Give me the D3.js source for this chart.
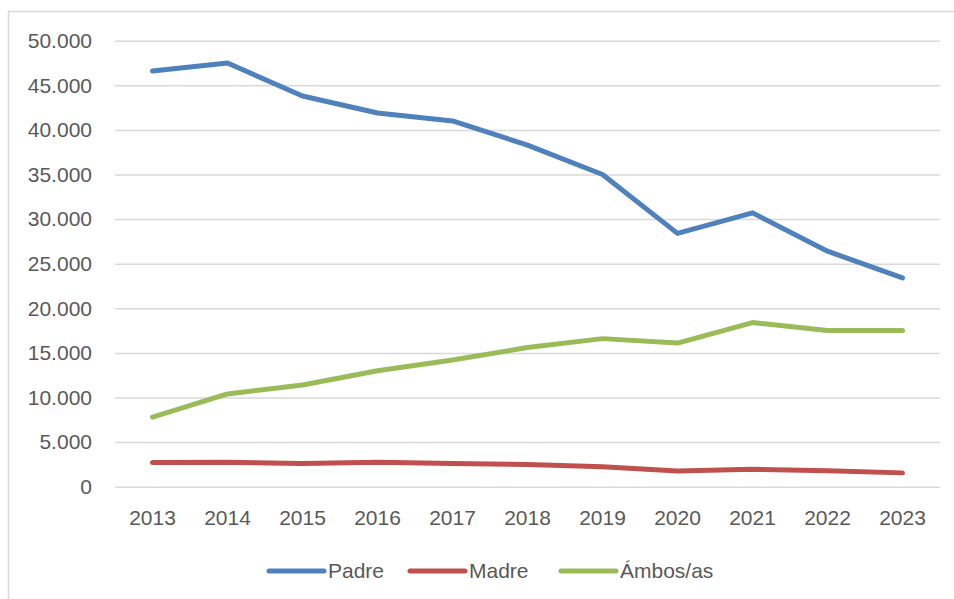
<!DOCTYPE html>
<html>
<head>
<meta charset="utf-8">
<script src="https://cdn.jsdelivr.net/npm/d3@7"></script>
<style>
	body { margin: 0; background: #fff; }
	svg { display: block; font-family: "Liberation Sans", Arial, sans-serif; }
	.tick text { fill: #595959; font-size: 21px; }
	.legend text { fill: #595959; font-size: 21px; }
</style>
</head>
<body>
<svg id="chart" width="954" height="599"></svg>
<script>
"use strict";

// data
var years = ["2013","2014","2015","2016","2017","2018","2019","2020","2021","2022","2023"];
var padre = [46600, 47500, 43800, 41900, 41000, 38300, 35000, 28400, 30700, 26400, 23400];
var madre = [2700, 2750, 2600, 2750, 2600, 2500, 2250, 1750, 1950, 1800, 1550];
var ambos = [7800, 10400, 11400, 13000, 14200, 15600, 16600, 16100, 18400, 17500, 17500];
var yTicks = [0, 5000, 10000, 15000, 20000, 25000, 30000, 35000, 40000, 45000, 50000];
var seriesNames = ["Padre", "Madre", "Ámbos/as"];
var seriesColors = ["#4F81BD", "#C0504D", "#9BBB59"];

var series = [padre, madre, ambos];

var svg = d3.select("#chart");
var plotL = 115, plotR = 940, plotT = 40.7, plotB = 486.7;

var loc = d3.formatLocale({decimal: ",", thousands: ".", grouping: [3], currency: ["", "€"]});
var fmt = loc.format(",d");

// chart border (right and bottom fall outside the picture)
svg.append("rect")
	.attr("x", 8.5).attr("y", 11.5)
	.attr("width", 960).attr("height", 620)
	.attr("fill", "none")
	.attr("stroke", "#D9D9D9")
	.attr("stroke-width", 1.5);

var x = d3.scaleBand().domain(years).range([plotL, plotR]);
var y = d3.scaleLinear().domain([0, 50000]).range([plotB, plotT]);

// gridlines + y labels
var yAxis = svg.append("g")
	.attr("transform", "translate(" + plotL + ",0)")
	.call(d3.axisLeft(y).tickValues(yTicks).tickFormat(fmt).tickSize(-(plotR - plotL)).tickPadding(23));
yAxis.select(".domain").remove();
yAxis.selectAll(".tick line").attr("stroke", "#D9D9D9").attr("stroke-width", 1.5);

// x labels
var xAxis = svg.append("g")
	.attr("transform", "translate(0," + plotB + ")")
	.call(d3.axisBottom(x).tickSize(0).tickPadding(23));
xAxis.select(".domain").remove();

var line = d3.line()
	.x(function(d, i){ return x(years[i]) + x.bandwidth() / 2; })
	.y(function(d){ return y(d); });

series.forEach(function(s, k){
	svg.append("path")
		.datum(s)
		.attr("d", line)
		.attr("fill", "none")
		.attr("stroke", seriesColors[k])
		.attr("stroke-width", 5)
		.attr("stroke-linecap", "round")
		.attr("stroke-linejoin", "round");
});

// legend
var legendX = [269, 410, 561];
var legendY = 571;
var legend = svg.append("g").attr("class", "legend");
seriesNames.forEach(function(name, k){
	legend.append("line")
		.attr("x1", legendX[k]).attr("x2", legendX[k] + 55)
		.attr("y1", legendY).attr("y2", legendY)
		.attr("stroke", seriesColors[k])
		.attr("stroke-width", 5)
		.attr("stroke-linecap", "round");
	legend.append("text")
		.attr("x", legendX[k] + 59)
		.attr("y", legendY)
		.attr("dy", "0.35em")
		.text(name);
});
</script>
</body>
</html>
